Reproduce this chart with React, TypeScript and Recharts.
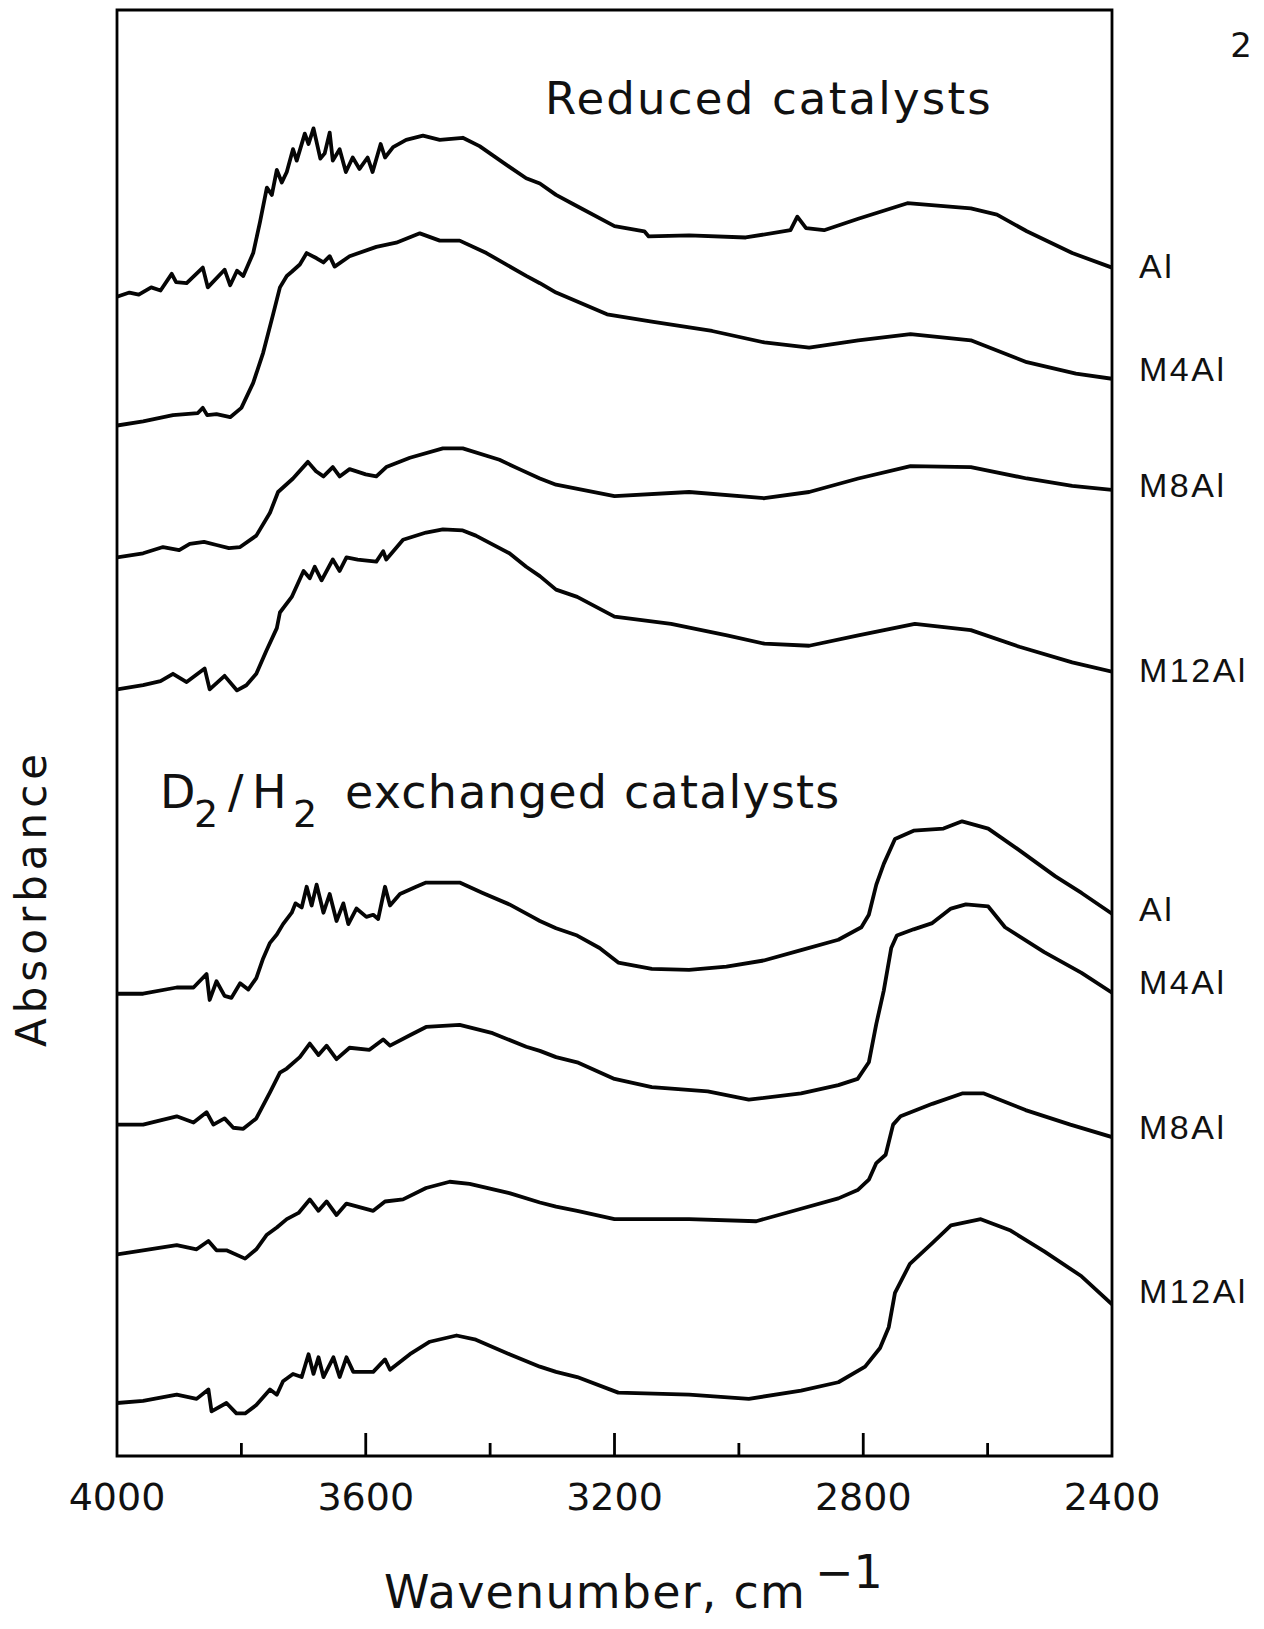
import React from "react";
import { LineChart, Line, XAxis, YAxis, ReferenceArea, ReferenceDot } from "recharts";

// wavenumber (cm-1), absorbance (arbitrary units x1000, curves offset)
const reducedAl: [number, number][] = [
  [4000, 1116], [3980, 1120], [3965, 1118], [3945, 1125], [3930, 1122], [3912, 1138], [3905, 1130], [3888, 1129],
  [3862, 1144], [3854, 1125], [3827, 1142], [3818, 1127], [3807, 1141], [3797, 1136], [3781, 1158], [3770, 1188],
  [3759, 1221], [3751, 1214], [3743, 1238], [3735, 1226], [3727, 1236], [3717, 1258], [3711, 1247], [3698, 1273],
  [3692, 1263], [3684, 1278], [3673, 1249], [3666, 1254], [3658, 1274], [3653, 1247], [3642, 1258], [3632, 1236],
  [3621, 1250], [3610, 1239], [3597, 1250], [3589, 1236], [3576, 1263], [3569, 1250], [3556, 1260], [3535, 1267],
  [3508, 1271], [3481, 1267], [3444, 1269], [3417, 1261], [3369, 1241], [3342, 1230], [3320, 1225], [3294, 1214],
  [3266, 1205], [3200, 1184], [3152, 1179], [3145, 1174], [3080, 1175], [2989, 1173], [2917, 1180], [2906, 1193],
  [2892, 1182], [2863, 1180], [2808, 1191], [2729, 1206], [2627, 1201], [2585, 1195], [2537, 1179], [2464, 1158],
  [2400, 1144],
];

const reducedM4Al: [number, number][] = [
  [4000, 992], [3958, 996], [3910, 1002], [3870, 1004], [3862, 1009], [3855, 1002], [3840, 1003], [3818, 1000],
  [3800, 1009], [3781, 1033], [3765, 1062], [3749, 1099], [3738, 1125], [3727, 1136], [3719, 1140], [3706, 1147],
  [3695, 1158], [3679, 1153], [3668, 1149], [3658, 1155], [3650, 1145], [3626, 1155], [3583, 1164], [3551, 1168],
  [3513, 1177], [3481, 1170], [3449, 1170], [3406, 1158], [3342, 1136], [3320, 1129], [3294, 1120], [3212, 1099],
  [3140, 1092], [3043, 1083], [2959, 1072], [2887, 1067], [2808, 1074], [2724, 1080], [2627, 1074], [2537, 1053],
  [2458, 1042], [2400, 1037],
];

const reducedM8Al: [number, number][] = [
  [4000, 865], [3958, 869], [3926, 875], [3900, 872], [3883, 878], [3860, 880], [3840, 877], [3820, 874],
  [3802, 875], [3776, 886], [3754, 908], [3741, 928], [3717, 941], [3693, 957], [3680, 948], [3668, 943],
  [3653, 952], [3642, 943], [3626, 950], [3600, 945], [3583, 943], [3567, 952], [3529, 961], [3476, 970],
  [3444, 970], [3385, 959], [3353, 950], [3320, 941], [3294, 935], [3200, 924], [3080, 928], [2959, 922],
  [2887, 928], [2808, 941], [2724, 953], [2627, 952], [2537, 941], [2464, 934], [2400, 930],
];

const reducedM12Al: [number, number][] = [
  [4000, 738], [3958, 742], [3930, 746], [3910, 753], [3888, 745], [3859, 758], [3851, 738], [3827, 751],
  [3807, 737], [3792, 742], [3776, 753], [3760, 775], [3743, 797], [3738, 812], [3719, 827], [3700, 852],
  [3690, 845], [3682, 856], [3671, 843], [3653, 863], [3642, 852], [3631, 865], [3613, 863], [3583, 861],
  [3572, 871], [3567, 863], [3540, 882], [3503, 889], [3476, 892], [3444, 891], [3423, 886], [3369, 869],
  [3342, 856], [3320, 847], [3294, 834], [3260, 827], [3200, 808], [3109, 801], [3019, 790], [2959, 782],
  [2887, 780], [2808, 790], [2717, 801], [2627, 795], [2549, 779], [2464, 764], [2400, 755],
];

const exchangedAl: [number, number][] = [
  [4000, 445], [3958, 445], [3904, 451], [3877, 451], [3856, 464], [3851, 439], [3840, 457], [3827, 443],
  [3816, 441], [3802, 455], [3789, 449], [3776, 460], [3765, 479], [3754, 494], [3743, 502], [3733, 512],
  [3719, 523], [3713, 532], [3703, 528], [3695, 548], [3687, 530], [3679, 550], [3668, 523], [3658, 541],
  [3647, 515], [3636, 532], [3628, 512], [3615, 527], [3599, 519], [3588, 521], [3580, 517], [3569, 548],
  [3561, 530], [3545, 541], [3519, 548], [3503, 552], [3449, 552], [3412, 542], [3369, 531], [3332, 519],
  [3320, 515], [3294, 508], [3260, 501], [3224, 489], [3194, 475], [3140, 469], [3080, 468], [3020, 471],
  [2960, 477], [2900, 487], [2840, 497], [2803, 509], [2791, 521], [2779, 550], [2767, 570], [2749, 594],
  [2719, 602], [2671, 604], [2641, 611], [2599, 604], [2551, 584], [2491, 558], [2449, 542], [2400, 522],
];

const exchangedM4Al: [number, number][] = [
  [4000, 319], [3958, 319], [3904, 327], [3877, 321], [3856, 331], [3845, 319], [3827, 325], [3813, 316],
  [3797, 315], [3776, 325], [3754, 350], [3738, 369], [3727, 373], [3706, 384], [3690, 397], [3676, 386],
  [3663, 395], [3647, 382], [3626, 393], [3594, 391], [3572, 401], [3561, 395], [3529, 405], [3503, 413],
  [3449, 415], [3396, 407], [3342, 394], [3320, 390], [3294, 384], [3260, 379], [3200, 363], [3140, 355],
  [3050, 351], [2984, 343], [2900, 349], [2840, 357], [2809, 363], [2791, 379], [2779, 416], [2767, 448],
  [2755, 489], [2746, 501], [2719, 507], [2689, 513], [2659, 527], [2635, 531], [2599, 529], [2572, 509],
  [2509, 485], [2449, 465], [2400, 446],
];

const exchangedM8Al: [number, number][] = [
  [4000, 194], [3958, 198], [3904, 203], [3872, 199], [3853, 207], [3840, 198], [3824, 198], [3794, 190],
  [3776, 199], [3759, 213], [3743, 220], [3727, 228], [3708, 234], [3690, 247], [3676, 236], [3663, 245],
  [3647, 232], [3631, 243], [3588, 236], [3569, 245], [3540, 247], [3503, 258], [3465, 264], [3433, 262],
  [3369, 253], [3320, 244], [3294, 240], [3260, 236], [3200, 228], [3080, 228], [2972, 226], [2900, 238],
  [2840, 248], [2809, 256], [2791, 266], [2779, 282], [2764, 290], [2752, 319], [2740, 327], [2689, 339],
  [2641, 349], [2606, 349], [2539, 333], [2467, 319], [2400, 307],
];

const exchangedM12Al: [number, number][] = [
  [4000, 51], [3958, 53], [3904, 59], [3872, 55], [3853, 64], [3848, 43], [3824, 51], [3808, 41],
  [3794, 41], [3776, 49], [3754, 64], [3743, 59], [3733, 72], [3717, 79], [3703, 76], [3692, 98],
  [3684, 79], [3676, 95], [3668, 76], [3652, 95], [3642, 76], [3631, 95], [3620, 81], [3588, 81],
  [3569, 93], [3561, 83], [3529, 98], [3497, 110], [3454, 116], [3423, 112], [3369, 98], [3320, 86],
  [3294, 81], [3260, 76], [3194, 61], [3080, 59], [2984, 55], [2900, 63], [2840, 71], [2797, 86],
  [2773, 104], [2759, 124], [2749, 157], [2725, 185], [2689, 205], [2659, 222], [2611, 228], [2563, 217],
  [2509, 197], [2449, 173], [2400, 146],
];

const allSeries = [
  reducedAl, reducedM4Al, reducedM8Al, reducedM12Al,
  exchangedAl, exchangedM4Al, exchangedM8Al, exchangedM12Al,
];

const seriesLabels = ["Al", "M4Al", "M8Al", "M12Al", "Al", "M4Al", "M8Al", "M12Al"];
const labelLevels = [1146, 1046, 935, 757, 527, 456, 317, 159];

const xTicks = [4000, 3800, 3600, 3400, 3200, 3000, 2800, 2600, 2400];
const xDomain: [number, number] = [2400, 4000];
const yDomain: [number, number] = [0, 1392];

const FONT = "DejaVu Sans, sans-serif";

const BottomTick = (props: any) => {
  const { x, y, payload } = props;
  const v = payload.value as number;
  const major = v % 400 === 0;
  const edge = v === 4000 || v === 2400;
  return (
    <g>
      {!edge && (
        <line x1={x} x2={x} y1={y} y2={y - (major ? 23 : 13)} stroke="#000" strokeWidth={2.8} />
      )}
      {major && (
        <text x={x} y={y + 54} textAnchor="middle" fontSize={38} fontFamily={FONT} fill="#111">
          {v}
        </text>
      )}
    </g>
  );
};

const makeLabelShape = (text: string) => (props: any) => (
  <text
    x={props.cx + 27}
    y={props.cy}
    dominantBaseline="central"
    fontSize={34}
    letterSpacing={2.5}
    fontFamily="Liberation Sans, Arial, sans-serif"
    fill="#111"
  >
    {text}
  </text>
);

export default function App() {
  return (
    <div style={{ position: "absolute", left: 0, top: 0, width: 1264, height: 1629, background: "#fff" }}>
      <LineChart
        width={1264}
        height={1629}
        margin={{ top: 10, right: 152, bottom: 143, left: 117 }}
      >
        <XAxis
          type="number"
          dataKey="w"
          domain={xDomain}
          reversed
          ticks={xTicks}
          interval={0}
          allowDataOverflow
          axisLine={false}
          tickLine={false}
          tickSize={0}
          tickMargin={0}
          height={30}
          tick={<BottomTick />}
        />
        <YAxis type="number" dataKey="a" domain={yDomain} hide allowDataOverflow />
        <ReferenceArea
          x1={4000}
          x2={2400}
          y1={0}
          y2={1392}
          fill="none"
          stroke="#000"
          strokeWidth={2.8}
          ifOverflow="visible"
        />
        {allSeries.map((s, i) => (
          <Line
            key={i}
            data={s.map(([w, a]) => ({ w, a }))}
            dataKey="a"
            type="linear"
            stroke="#050505"
            strokeWidth={3.8}
            dot={false}
            isAnimationActive={false}
            strokeLinejoin="round"
          />
        ))}
        {seriesLabels.map((lab, i) => (
          <ReferenceDot
            key={"l" + i}
            x={2400}
            y={labelLevels[i]}
            r={0}
            ifOverflow="visible"
            shape={makeLabelShape(lab)}
          />
        ))}
      </LineChart>
      <svg
        width={1264}
        height={1629}
        style={{ position: "absolute", left: 0, top: 0, pointerEvents: "none" }}
      >
        <g fontFamily={FONT} fill="#111">
          <text x={1241} y={57} textAnchor="middle" fontSize={34}>2</text>
          <text x={545} y={114} fontSize={45} letterSpacing={2.2}>Reduced catalysts</text>
          <text x={160} y={808} fontSize={46}>D</text>
          <text x={194} y={827} fontSize={38}>2</text>
          <text x={228} y={808} fontSize={46}>/</text>
          <text x={252} y={808} fontSize={46}>H</text>
          <text x={293} y={827} fontSize={38}>2</text>
          <text x={345} y={808} fontSize={46} letterSpacing={1.2}>exchanged catalysts</text>
          <text
            x={31}
            y={898}
            transform="rotate(-90 31 898)"
            textAnchor="middle"
            dominantBaseline="central"
            fontSize={42}
            letterSpacing={5}
          >
            Absorbance
          </text>
          <text x={384} y={1608} fontSize={46} letterSpacing={1.2}>Wavenumber, cm</text>
          <text x={815} y={1588} fontSize={46}>−1</text>
        </g>
      </svg>
    </div>
  );
}
